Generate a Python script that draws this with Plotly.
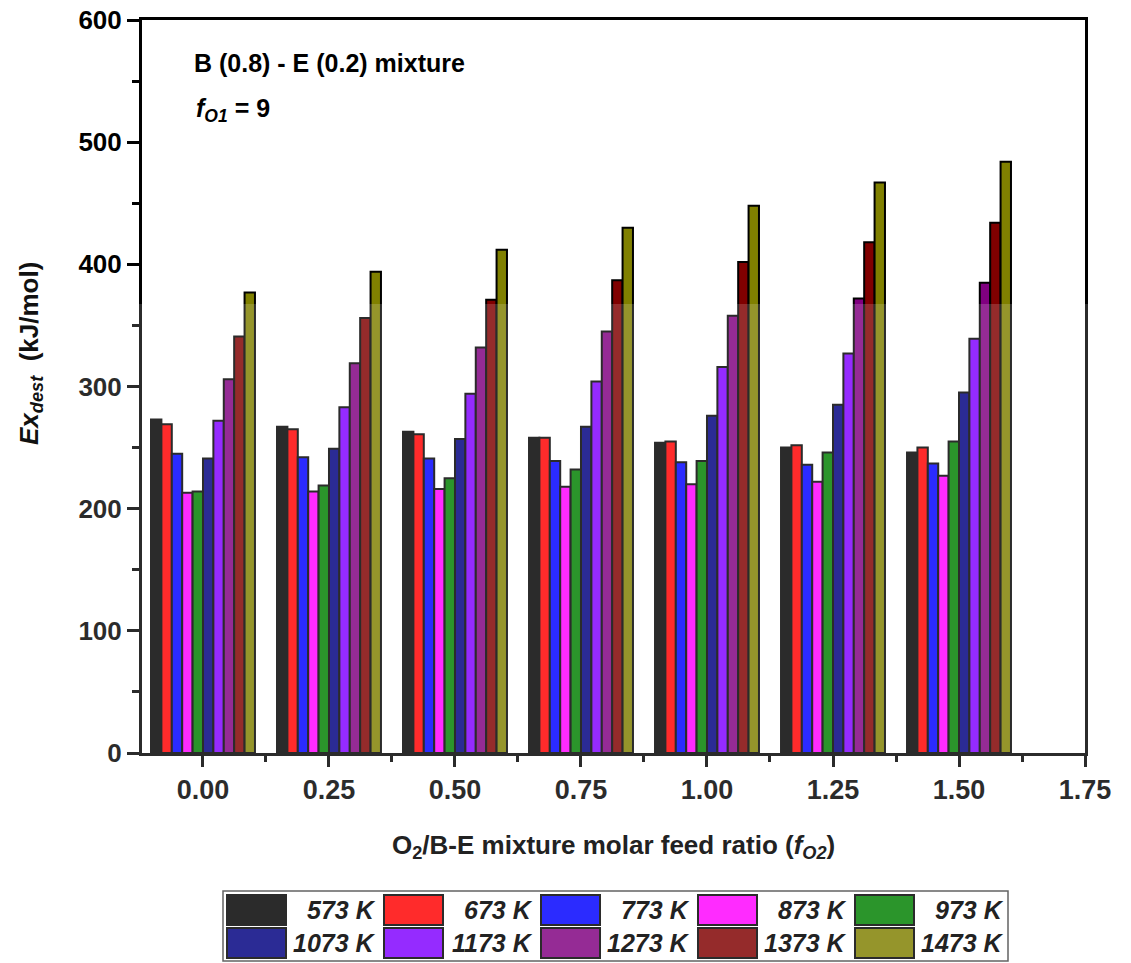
import plotly.graph_objects as go

# ---------------- data ----------------
feed_ratio = [0.00, 0.25, 0.50, 0.75, 1.00, 1.25, 1.50]
temps = ["573 K", "673 K", "773 K", "873 K", "973 K",
         "1073 K", "1173 K", "1273 K", "1373 K", "1473 K"]

ex_573 = [273, 267, 263, 258, 254, 250, 246]
ex_673 = [269, 265, 261, 258, 255, 252, 250]
ex_773 = [245, 242, 241, 239, 238, 236, 237]
ex_873 = [213, 214, 216, 218, 220, 222, 227]
ex_973 = [214, 219, 225, 232, 239, 246, 255]
ex_1073 = [241, 249, 257, 267, 276, 285, 295]
ex_1173 = [272, 283, 294, 304, 316, 327, 339]
ex_1273 = [306, 319, 332, 345, 358, 372, 385]
ex_1373 = [341, 356, 371, 387, 402, 418, 434]
ex_1473 = [377, 394, 412, 430, 448, 467, 484]

series = [ex_573, ex_673, ex_773, ex_873, ex_973,
          ex_1073, ex_1173, ex_1273, ex_1373, ex_1473]

colors = ["#000000", "#FF0000", "#0000FF", "#FF00FF", "#008000",
          "#000080", "#8000FF", "#800080", "#800000", "#808000"]

FONT = "Liberation Sans, Arial, sans-serif"
W, H = 1131, 963
L, R, T, B = 142, 1085, 20, 753


def px_x(p):
    return (p - L) / (R - L)


def px_y(p):
    return (B - p) / (B - T)


fig = go.Figure()
for name, vals, col in zip(temps, series, colors):
    fig.add_trace(go.Bar(
        x=feed_ratio, y=vals, name=name,
        marker=dict(color=col, line=dict(color="#000000", width=2)),
        showlegend=False,
    ))

shapes = []
annotations = []

# custom legend box
shapes.append(dict(type="rect", xref="paper", yref="paper",
                   x0=px_x(223), x1=px_x(1008), y0=px_y(891), y1=px_y(961),
                   line=dict(color="#444444", width=1.5), fillcolor="rgba(0,0,0,0)",
                   layer="above"))
for i, (name, col) in enumerate(zip(temps, colors)):
    r, c = divmod(i, 5)
    x0 = 227 + 157 * c
    y0 = 895 + 33 * r
    shapes.append(dict(type="rect", xref="paper", yref="paper",
                       x0=px_x(x0), x1=px_x(x0 + 59), y0=px_y(y0), y1=px_y(y0 + 30),
                       fillcolor=col, line=dict(color="#000000", width=2),
                       layer="above"))
    annotations.append(dict(xref="paper", yref="paper",
                            x=px_x(378 + 157 * c), y=px_y(y0 + 15),
                            xanchor="right", yanchor="middle", showarrow=False,
                            text="<b><i>%s</i></b>" % name,
                            font=dict(family=FONT, size=25, color="#222222")))

# translucent overlay present in the reference image (lower part lightened)
shapes.append(dict(type="rect", xref="paper", yref="paper",
                   x0=px_x(0), x1=px_x(W), y0=px_y(304), y1=px_y(H),
                   fillcolor="rgba(255,255,255,0.17)", line=dict(width=0),
                   layer="above"))

# text annotations
annotations.append(dict(xref="paper", yref="paper", x=px_x(192), y=px_y(63),
                        xanchor="left", yanchor="middle", showarrow=False,
                        text="<b>B (0.8) - E (0.2) mixture</b>",
                        font=dict(family=FONT, size=25, color="#000000")))
annotations.append(dict(xref="paper", yref="paper", x=px_x(194), y=px_y(110),
                        xanchor="left", yanchor="middle", showarrow=False,
                        text="<b><i>f</i><sub><i>O1</i></sub> = 9</b>",
                        font=dict(family=FONT, size=25, color="#000000")))
annotations.append(dict(xref="paper", yref="paper", x=px_x(30), y=px_y(354),
                        xanchor="center", yanchor="middle", showarrow=False,
                        textangle=-90,
                        text="<b><i>Ex</i><sub><i>dest</i></sub>  (kJ/mol)</b>",
                        font=dict(family=FONT, size=26, color="#111111")))
annotations.append(dict(xref="paper", yref="paper", x=0.5, y=px_y(846),
                        xanchor="center", yanchor="middle", showarrow=False,
                        text="<b>O<sub>2</sub>/B-E mixture molar feed ratio (<i>f</i><sub><i>O2</i></sub>)</b>",
                        font=dict(family=FONT, size=26, color="#222222")))

fig.update_layout(
    width=W, height=H,
    margin=dict(l=L, r=W - R, t=T, b=H - B, autoexpand=False),
    paper_bgcolor="white", plot_bgcolor="white",
    barmode="group", bargap=0.175, bargroupgap=0.0,
    font=dict(family=FONT, color="#000000"),
    shapes=shapes, annotations=annotations,
    showlegend=False,
)
fig.update_xaxes(
    range=[-0.121, 1.75], tickmode="linear", tick0=0, dtick=0.25, tickformat=".2f",
    showline=True, linecolor="#000000", linewidth=3, mirror=True,
    ticks="outside", ticklen=11, tickwidth=3, tickcolor="#000000",
    minor=dict(dtick=0.125, ticks="outside", ticklen=6, tickwidth=3, tickcolor="#000000"),
    tickfont=dict(family=FONT, size=27, color="#000000", weight="bold"),
    showgrid=False, zeroline=False, automargin=False,
)
fig.update_yaxes(
    range=[0, 600], tickmode="linear", tick0=0, dtick=100,
    showline=True, linecolor="#000000", linewidth=3, mirror=True,
    ticks="outside", ticklen=12, tickwidth=3, tickcolor="#000000",
    minor=dict(dtick=50, ticks="outside", ticklen=7, tickwidth=3, tickcolor="#000000"),
    tickfont=dict(family=FONT, size=26, color="#000000", weight="bold"),
    showgrid=False, zeroline=False, automargin=False,
)

fig.write_html("out.html")
